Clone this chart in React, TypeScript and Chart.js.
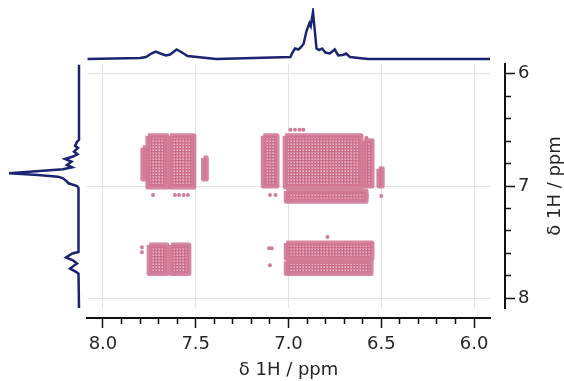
import React, { useEffect, useRef } from 'react';
import { Chart, registerables } from 'chart.js';

Chart.register(...registerables);

// ---- axis ranges / labels ----
const PPM_LOW = 5.914;
const PPM_HIGH = 8.086;
const X_TITLE = 'δ 1H / ppm';
const Y_TITLE = 'δ 1H / ppm';

// ---- top projection (F2 trace) ----
const topPpm = [8.083, 7.8, 7.768, 7.739, 7.716, 7.69, 7.661, 7.638, 7.603, 7.574, 7.544, 7.389, 6.99, 6.98, 6.965, 6.946, 6.932, 6.919, 6.903, 6.887, 6.88, 6.868, 6.849, 6.835, 6.819, 6.801, 6.777, 6.751, 6.732, 6.708, 6.689, 6.669, 6.572, 5.914];
const topInt = [0, 2, 4, 11, 15, 11, 7, 9, 19, 13, 6, 0, 4, 12, 21, 19, 24, 30, 56, 72, 66, 94, 21, 18, 21, 13, 11, 19, 7, 8, 11, 4, 0, 0];

// ---- left projection (F1 trace) ----
const leftPpm = [5.92, 6.589, 6.607, 6.643, 6.661, 6.694, 6.717, 6.738, 6.759, 6.783, 6.813, 6.833, 6.851, 6.887, 6.902, 6.917, 6.931, 6.961, 6.976, 7.0, 7.018, 7.587, 7.601, 7.637, 7.661, 7.69, 7.735, 7.765, 7.78, 8.09];
const leftInt = [0, 0, 2, 4, 1, 5, 1.5, 6, 14, 7.5, 12, 7, 16, 70, 41, 21, 16, 12, 10.5, 2, 0.5, 0.5, 6.7, 13, 6, 2, 9, 3, 0.5, 0];

// ---- cross-peak contour regions, outer level (F2 from/to, F1 from/to, ppm) ----
const peakF2a = [7.785, 7.758, 7.638, 7.458, 7.136, 7.018, 6.592, 6.513, 7.012, 7.751, 7.633, 7.012, 7.012];
const peakF2b = [7.772, 7.655, 7.51, 7.443, 7.062, 6.609, 6.55, 6.495, 6.582, 7.655, 7.537, 6.55, 6.555];
const peakF1a = [6.66, 6.553, 6.553, 6.75, 6.553, 6.553, 6.597, 6.847, 7.044, 7.526, 7.526, 7.508, 7.67];
const peakF1b = [6.938, 7.01, 7.01, 6.938, 7.0, 7.01, 7.0, 7.0, 7.135, 7.778, 7.778, 7.644, 7.778];

// ---- inner contour levels ----
const ringF2a = [7.745, 7.63, 6.965, 6.778, 7.745, 7.625, 7.745, 7.625, 7.12, 6.95, 6.95, 6.98, 6.98];
const ringF2b = [7.668, 7.53, 6.79, 6.63, 7.665, 7.545, 7.665, 7.545, 7.075, 6.62, 6.57, 6.6, 6.6];
const ringF1a = [6.62, 6.62, 6.68, 6.68, 7.545, 7.545, 7.665, 7.665, 6.62, 6.6, 7.08, 7.54, 7.69];
const ringF1b = [6.96, 6.96, 6.93, 6.95, 7.64, 7.64, 7.76, 7.76, 6.98, 6.98, 7.11, 7.62, 7.76];

// ---- isolated small contour specks ----
const dotF2 = [7.73, 7.612, 7.59, 7.565, 7.542, 7.1, 7.07, 6.5, 6.99, 6.965, 6.94, 6.92, 6.58, 7.79, 7.79, 7.105, 7.09, 7.1, 6.79];
const dotF1 = [7.08, 7.08, 7.08, 7.08, 7.08, 7.08, 7.08, 7.09, 6.5, 6.5, 6.5, 6.5, 6.57, 7.545, 7.59, 7.554, 7.554, 7.705, 7.455];

const NAVY = '#1b2470';
const PINK_EDGE = 'rgba(208, 120, 146, 0.9)';
const PINK_RING = 'rgba(192, 92, 124, 0.75)';
const PINK_DOT = 'rgba(204, 112, 140, 0.9)';
const FONT = { family: '"DejaVu Sans", sans-serif', size: 18, weight: 'normal' };
const TEXT = '#262626';

const isMultiple = (v: number, step: number) => Math.abs(v / step - Math.round(v / step)) < 1e-6;

const rightTitlePlugin = {
  id: 'rightTitle',
  afterDraw(chart: any) {
    const s = chart.scales.yAxis;
    const { ctx, chartArea } = chart;
    ctx.save();
    ctx.translate(s.right - 9, (chartArea.top + chartArea.bottom) / 2);
    ctx.rotate(-Math.PI / 2);
    ctx.font = `${FONT.weight} ${FONT.size}px ${FONT.family}`;
    ctx.fillStyle = TEXT;
    ctx.textAlign = 'center';
    ctx.textBaseline = 'middle';
    ctx.fillText(Y_TITLE, 0, 0);
    ctx.restore();
  },
};

function makePattern(ctx: CanvasRenderingContext2D) {
  const c = document.createElement('canvas');
  c.width = 3;
  c.height = 3;
  const g = c.getContext('2d')!;
  g.fillStyle = 'rgba(216, 138, 161, 0.92)';
  g.fillRect(0, 0, 3, 3);
  g.fillStyle = 'rgba(202, 108, 137, 0.95)';
  g.fillRect(1, 0, 1, 3);
  g.fillRect(0, 1, 3, 1);
  g.fillStyle = 'rgba(236, 192, 205, 0.9)';
  g.fillRect(0, 0, 1, 1);
  return ctx.createPattern(c, 'repeat');
}

function rectData(a: number, b: number, c: number, d: number) {
  return [
    { x: a, y: c },
    { x: b, y: c },
    { x: b, y: d },
    { x: a, y: d },
    { x: a, y: c },
  ];
}

export default function App() {
  const mainRef = useRef<HTMLCanvasElement>(null);
  const topRef = useRef<HTMLCanvasElement>(null);
  const leftRef = useRef<HTMLCanvasElement>(null);

  useEffect(() => {
    document.body.style.margin = '0';
    const mctx = mainRef.current!.getContext('2d')!;
    const pattern = makePattern(mctx);

    const peakSets = peakF2a.map((a, i) => ({
      data: rectData(a, peakF2b[i], peakF1a[i], peakF1b[i]),
      showLine: true,
      fill: 'shape',
      backgroundColor: pattern,
      borderColor: PINK_EDGE,
      borderWidth: 5,
      borderJoinStyle: 'round',
      pointRadius: 0,
    }));

    const ringSets = ringF2a.map((a, i) => ({
      data: rectData(a, ringF2b[i], ringF1a[i], ringF1b[i]),
      showLine: true,
      fill: false,
      borderColor: PINK_RING,
      borderWidth: 1.5,
      borderJoinStyle: 'round',
      borderDash: [2, 1.5],
      pointRadius: 0,
    }));

    const dotSet = {
      data: dotF2.map((x, i) => ({ x, y: dotF1[i] })),
      showLine: false,
      pointRadius: 2,
      pointBackgroundColor: PINK_DOT,
      pointBorderWidth: 0,
    };

    const main = new Chart(mctx, {
      type: 'scatter',
      data: { datasets: [...peakSets, ...ringSets, dotSet] as any },
      options: {
        animation: false,
        responsive: false,
        layout: { padding: { left: 87, top: 64, right: 0, bottom: 0 } },
        plugins: { legend: { display: false }, tooltip: { enabled: false } },
        scales: {
          x: {
            type: 'linear', position: 'bottom', min: PPM_LOW, max: PPM_HIGH, reverse: true, weight: 0,
            grid: { color: '#e2e2e2', lineWidth: 1, drawTicks: false },
            border: { display: false },
            ticks: { display: false, stepSize: 0.5, includeBounds: false },
            afterFit: (s: any) => { s.height = 10; },
          },
          xAxis: {
            type: 'linear', position: 'bottom', min: PPM_LOW, max: PPM_HIGH, reverse: true, weight: 1,
            grid: {
              drawOnChartArea: false, tickLength: 10, tickWidth: 1.5, tickColor: '#111',
              tickBorderDash: (c: any) => (c.tick && isMultiple(c.tick.value, 0.5) ? [] : [5, 30]),
            },
            border: { display: true, color: '#111', width: 2 },
            ticks: {
              stepSize: 0.1, includeBounds: false, autoSkip: false, maxRotation: 0, minRotation: 0,
              padding: 6, font: FONT, color: TEXT,
              callback: (v: any) => (isMultiple(Number(v), 0.5) ? Number(v).toFixed(1) : ''),
            },
            title: { display: true, text: X_TITLE, font: FONT, color: TEXT, padding: 0 },
            afterFit: (s: any) => { s.height = 63; },
          },
          y: {
            type: 'linear', position: 'right', min: PPM_LOW, max: PPM_HIGH, reverse: true, weight: 0,
            grid: { color: '#e2e2e2', lineWidth: 1, drawTicks: false },
            border: { display: false },
            ticks: { display: false, stepSize: 1, includeBounds: false },
            afterFit: (s: any) => { s.width = 15; },
          },
          yAxis: {
            type: 'linear', position: 'right', min: PPM_LOW, max: PPM_HIGH, reverse: true, weight: 1,
            grid: {
              drawOnChartArea: false, tickLength: 10, tickWidth: 1.5, tickColor: '#111',
              tickBorderDash: (c: any) => (c.tick && isMultiple(c.tick.value, 1) ? [] : [5, 30]),
            },
            border: { display: true, color: '#111', width: 2 },
            ticks: {
              stepSize: 0.2, includeBounds: false, autoSkip: false, padding: 3, font: FONT, color: TEXT,
              callback: (v: any) => (isMultiple(Number(v), 1) ? String(Math.round(Number(v))) : ''),
            },
            afterFit: (s: any) => { s.width = 59; },
          },
        },
      } as any,
      plugins: [rightTitlePlugin],
    });

    const top = new Chart(topRef.current!, {
      type: 'scatter',
      data: {
        datasets: [{
          data: topPpm.map((x, i) => ({ x, y: topInt[i] })),
          showLine: true, borderColor: NAVY, borderWidth: 2.5, pointRadius: 0, tension: 0,
        }],
      },
      options: {
        animation: false,
        responsive: false,
        layout: { padding: { left: 87, right: 74, top: 8, bottom: 3 } },
        plugins: { legend: { display: false }, tooltip: { enabled: false } },
        scales: {
          x: { type: 'linear', display: false, min: PPM_LOW, max: PPM_HIGH, reverse: true },
          y: { type: 'linear', display: false, min: -4, max: 102 },
        },
      } as any,
    });

    const left = new Chart(leftRef.current!, {
      type: 'scatter',
      data: {
        datasets: [{
          data: leftPpm.map((y, i) => ({ x: leftInt[i], y })),
          showLine: true, borderColor: NAVY, borderWidth: 2.5, pointRadius: 0, tension: 0,
        }],
      },
      options: {
        animation: false,
        responsive: false,
        layout: { padding: { left: 4, right: 3, top: 64, bottom: 73 } },
        plugins: { legend: { display: false }, tooltip: { enabled: false } },
        scales: {
          x: { type: 'linear', display: false, min: -5, max: 75, reverse: true },
          y: { type: 'linear', display: false, min: PPM_LOW, max: PPM_HIGH, reverse: true },
        },
      } as any,
    });

    return () => {
      main.destroy();
      top.destroy();
      left.destroy();
    };
  }, []);

  return (
    <div style={{ position: 'fixed', left: 0, top: 0, width: 564, height: 381, background: '#fff' }}>
      <canvas ref={mainRef} width={564} height={381} style={{ position: 'absolute', left: 0, top: 0, width: 564, height: 381 }} />
      <canvas ref={topRef} width={564} height={64} style={{ position: 'absolute', left: 0, top: 0, width: 564, height: 64 }} />
      <canvas ref={leftRef} width={87} height={381} style={{ position: 'absolute', left: 0, top: 0, width: 87, height: 381 }} />
    </div>
  );
}
